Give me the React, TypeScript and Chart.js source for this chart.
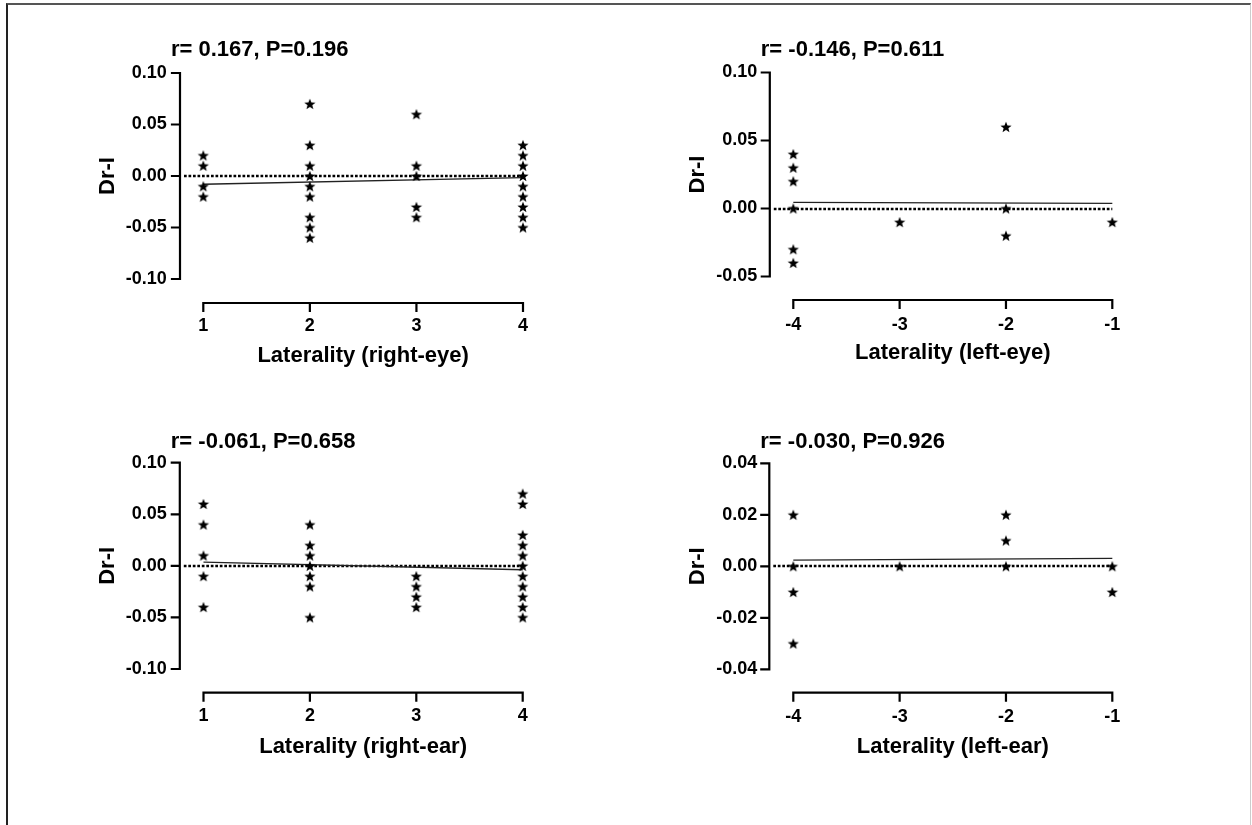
import React, { useEffect, useRef } from "react";
import { Chart, registerables } from "chart.js";

Chart.register(...registerables);

const FONT = "'Liberation Sans', Arial, Helvetica, sans-serif";

// ---------------- data ----------------
const yAxisTitle = "Dr-I";

// Panel A: right eye
const rightEyeTitle = "r= 0.167, P=0.196";
const rightEyeXLabel = "Laterality (right-eye)";
const rightEyeXTicks = [1, 2, 3, 4];
const rightEyeYTicks = [-0.1, -0.05, 0, 0.05, 0.1];
const rightEyeX = [1, 1, 1, 1, 2, 2, 2, 2, 2, 2, 2, 2, 2, 3, 3, 3, 3, 3, 4, 4, 4, 4, 4, 4, 4, 4, 4];
const rightEyeY = [0.02, 0.01, -0.01, -0.02, 0.07, 0.03, 0.01, 0.0, -0.01, -0.02, -0.04, -0.05, -0.06, 0.06, 0.01, 0.0, -0.03, -0.04, 0.03, 0.02, 0.01, 0.0, -0.01, -0.02, -0.03, -0.04, -0.05];
const rightEyeFitX = [1, 4];
const rightEyeFitY = [-0.008, -0.0015];

// Panel B: left eye
const leftEyeTitle = "r= -0.146, P=0.611";
const leftEyeXLabel = "Laterality (left-eye)";
const leftEyeXTicks = [-4, -3, -2, -1];
const leftEyeYTicks = [-0.05, 0, 0.05, 0.1];
const leftEyeX = [-4, -4, -4, -4, -4, -4, -3, -2, -2, -2, -1];
const leftEyeY = [0.04, 0.03, 0.02, 0.0, -0.03, -0.04, -0.01, 0.06, 0.0, -0.02, -0.01];
const leftEyeFitX = [-4, -1];
const leftEyeFitY = [0.0045, 0.0038];

// Panel C: right ear
const rightEarTitle = "r= -0.061, P=0.658";
const rightEarXLabel = "Laterality (right-ear)";
const rightEarXTicks = [1, 2, 3, 4];
const rightEarYTicks = [-0.1, -0.05, 0, 0.05, 0.1];
const rightEarX = [1, 1, 1, 1, 1, 2, 2, 2, 2, 2, 2, 2, 3, 3, 3, 3, 4, 4, 4, 4, 4, 4, 4, 4, 4, 4, 4];
const rightEarY = [0.06, 0.04, 0.01, -0.01, -0.04, 0.04, 0.02, 0.01, 0.0, -0.01, -0.02, -0.05, -0.01, -0.02, -0.03, -0.04, 0.07, 0.06, 0.03, 0.02, 0.01, 0.0, -0.01, -0.02, -0.03, -0.04, -0.05];
const rightEarFitX = [1, 4];
const rightEarFitY = [0.0037, -0.0038];

// Panel D: left ear
const leftEarTitle = "r= -0.030, P=0.926";
const leftEarXLabel = "Laterality (left-ear)";
const leftEarXTicks = [-4, -3, -2, -1];
const leftEarYTicks = [-0.04, -0.02, 0, 0.02, 0.04];
const leftEarX = [-4, -4, -4, -4, -3, -2, -2, -2, -1, -1];
const leftEarY = [0.02, 0.0, -0.01, -0.03, 0.0, 0.02, 0.01, 0.0, 0.0, -0.01];
const leftEarFitX = [-4, -1];
const leftEarFitY = [0.0024, 0.0031];

// ---------------- layout (page pixel positions) ----------------
type Spec = {
  title: string; xLabel: string; xTicks: number[]; yTicks: number[];
  xs: number[]; ys: number[]; fitX: number[]; fitY: number[];
  box: { x: number; y: number; w: number; h: number };
  area: { l: number; t: number; r: number; b: number };
  gapX: number; gapY: number; yLabelRight: number; yTitleX: number;
  titleY: number; xTickCY: number; xTitleCY: number;
};

const panels: Spec[] = [
  {
    title: rightEyeTitle, xLabel: rightEyeXLabel, xTicks: rightEyeXTicks, yTicks: rightEyeYTicks,
    xs: rightEyeX, ys: rightEyeY, fitX: rightEyeFitX, fitY: rightEyeFitY,
    box: { x: 0, y: 0, w: 626, h: 412 }, area: { l: 203.3, t: 73, r: 523, b: 279 },
    gapX: 23.3, gapY: 24, yLabelRight: 166.7, yTitleX: 108, titleY: 50, xTickCY: 326, xTitleCY: 356,
  },
  {
    title: leftEyeTitle, xLabel: leftEyeXLabel, xTicks: leftEyeXTicks, yTicks: leftEyeYTicks,
    xs: leftEyeX, ys: leftEyeY, fitX: leftEyeFitX, fitY: leftEyeFitY,
    box: { x: 626, y: 0, w: 626, h: 412 }, area: { l: 793.3, t: 72.5, r: 1112.3, b: 276.5 },
    gapX: 23.5, gapY: 23.5, yLabelRight: 757.3, yTitleX: 697.5, titleY: 50, xTickCY: 325, xTitleCY: 353,
  },
  {
    title: rightEarTitle, xLabel: rightEarXLabel, xTicks: rightEarXTicks, yTicks: rightEarYTicks,
    xs: rightEarX, ys: rightEarY, fitX: rightEarFitX, fitY: rightEarFitY,
    box: { x: 0, y: 412, w: 626, h: 413 }, area: { l: 203.5, t: 462.7, r: 522.7, b: 669 },
    gapX: 23.7, gapY: 23.7, yLabelRight: 166.7, yTitleX: 108, titleY: 441.5, xTickCY: 716, xTitleCY: 746.5,
  },
  {
    title: leftEarTitle, xLabel: leftEarXLabel, xTicks: leftEarXTicks, yTicks: leftEarYTicks,
    xs: leftEarX, ys: leftEarY, fitX: leftEarFitX, fitY: leftEarFitY,
    box: { x: 626, y: 412, w: 626, h: 413 }, area: { l: 793.3, t: 463.3, r: 1112.3, b: 669.3 },
    gapX: 24, gapY: 23.4, yLabelRight: 757.3, yTitleX: 697.5, titleY: 442.3, xTickCY: 716.7, xTitleCY: 746.7,
  },
];

function makeStar(): HTMLCanvasElement {
  const c = document.createElement("canvas");
  const s = 14;
  c.width = s;
  c.height = s;
  const g = c.getContext("2d")!;
  g.fillStyle = "#000";
  g.beginPath();
  for (let i = 0; i < 10; i++) {
    const r = i % 2 === 0 ? 5.9 : 2.5;
    const a = -Math.PI / 2 + (i * Math.PI) / 5;
    const px = s / 2 + r * Math.cos(a);
    const py = s / 2 + 0.6 + r * Math.sin(a);
    if (i === 0) g.moveTo(px, py);
    else g.lineTo(px, py);
  }
  g.closePath();
  g.fill();
  return c;
}

function axesPlugin(spec: Spec) {
  return {
    id: "prismAxes",
    beforeDatasetsDraw(chart: any) {
      const { ctx, chartArea: a, scales } = chart;
      const x = scales.x;
      const y = scales.y;
      const ax = a.left - spec.gapX;
      const ay = a.bottom + spec.gapY;
      ctx.save();
      // zero reference (dotted)
      const y0 = Math.round(y.getPixelForValue(0));
      ctx.strokeStyle = "#000";
      ctx.lineWidth = 2.7;
      ctx.setLineDash([2.7, 1.8]);
      ctx.beginPath();
      ctx.moveTo(ax + 4, y0);
      ctx.lineTo(a.right, y0);
      ctx.stroke();
      ctx.setLineDash([]);
      // axes
      ctx.lineWidth = 2.2;
      ctx.lineCap = "square";
      const yt = spec.yTicks;
      const xt = spec.xTicks;
      ctx.beginPath();
      ctx.moveTo(ax, y.getPixelForValue(Math.max(...yt)));
      ctx.lineTo(ax, y.getPixelForValue(Math.min(...yt)));
      for (const v of yt) {
        const p = y.getPixelForValue(v);
        ctx.moveTo(ax, p);
        ctx.lineTo(ax - 8, p);
      }
      ctx.moveTo(x.getPixelForValue(xt[0]), ay);
      ctx.lineTo(x.getPixelForValue(xt[xt.length - 1]), ay);
      for (const v of xt) {
        const p = x.getPixelForValue(v);
        ctx.moveTo(p, ay);
        ctx.lineTo(p, ay + 8);
      }
      ctx.stroke();
      // title
      ctx.fillStyle = "#000";
      ctx.font = `bold 22px ${FONT}`;
      ctx.textAlign = "left";
      ctx.textBaseline = "middle";
      ctx.fillText(spec.title, ax - 9, spec.titleY - spec.box.y);
      ctx.restore();
    },
  };
}

function Panel({ spec }: { spec: Spec }) {
  const ref = useRef<HTMLCanvasElement>(null);
  useEffect(() => {
    const star = makeStar();
    const { box, area } = spec;
    const L = area.l - box.x;
    const T = area.t - box.y;
    const R = area.r - box.x;
    const B = area.b - box.y;
    const chart = new Chart(ref.current!, {
      type: "scatter",
      data: {
        datasets: [
          {
            type: "scatter",
            data: spec.xs.map((v, i) => ({ x: v, y: spec.ys[i] })),
            pointStyle: star as any,
            pointRadius: 5,
            clip: false as any,
          },
          {
            type: "line",
            data: spec.fitX.map((v, i) => ({ x: v, y: spec.fitY[i] })),
            borderColor: "#222",
            borderWidth: 1.3,
            pointRadius: 0,
            fill: false,
            clip: false as any,
          } as any,
        ],
      },
      options: {
        animation: false,
        responsive: false,
        events: [],
        layout: { padding: { left: 0, top: T, right: box.w - R, bottom: 0 } },
        plugins: {
          legend: { display: false },
          tooltip: { enabled: false },
          title: { display: false },
        },
        scales: {
          x: {
            type: "linear",
            position: "bottom",
            min: Math.min(...spec.xTicks),
            max: Math.max(...spec.xTicks),
            grid: { display: false, drawTicks: false },
            border: { display: false },
            afterBuildTicks: (s: any) => {
              s.ticks = spec.xTicks.map((v) => ({ value: v }));
            },
            afterFit: (s: any) => {
              s.height = box.h - B;
            },
            ticks: {
              autoSkip: false,
              maxRotation: 0,
              padding: spec.xTickCY - area.b - 10.8,
              color: "#000",
              font: { family: FONT, size: 18, weight: "bold" },
              callback: (v: any) => String(v),
            },
            title: {
              display: true,
              text: spec.xLabel,
              color: "#000",
              font: { family: FONT, size: 22, weight: "bold" },
              padding: { top: 0, bottom: box.h - (spec.xTitleCY - box.y) - 13.2 },
            },
          },
          y: {
            type: "linear",
            position: "left",
            min: Math.min(...spec.yTicks),
            max: Math.max(...spec.yTicks),
            grid: { display: false, drawTicks: false },
            border: { display: false },
            afterBuildTicks: (s: any) => {
              s.ticks = spec.yTicks.map((v) => ({ value: v }));
            },
            afterFit: (s: any) => {
              s.width = L;
            },
            ticks: {
              autoSkip: false,
              padding: area.l - spec.yLabelRight,
              color: "#000",
              font: { family: FONT, size: 18, weight: "bold" },
              callback: (v: any) => Number(v).toFixed(2),
            },
            title: {
              display: true,
              text: yAxisTitle,
              color: "#000",
              font: { family: FONT, size: 22, weight: "bold" },
              padding: { top: spec.yTitleX - box.x - 13.2, bottom: 0 },
            },
          },
        },
      } as any,
      plugins: [axesPlugin(spec)],
    });
    return () => chart.destroy();
  }, [spec]);
  return (
    <canvas
      ref={ref}
      width={spec.box.w}
      height={spec.box.h}
      style={{
        position: "absolute",
        left: spec.box.x,
        top: spec.box.y,
        width: spec.box.w,
        height: spec.box.h,
      }}
    />
  );
}

export default function App() {
  useEffect(() => {
    document.body.style.margin = "0";
    document.body.style.background = "#fff";
  }, []);
  return (
    <div
      style={{
        position: "relative",
        width: 1252,
        height: 825,
        overflow: "hidden",
        background: "#fff",
      }}
    >
      <div
        style={{
          position: "absolute",
          left: 6,
          top: 3,
          width: 1242,
          height: 840,
          borderTop: "2px solid #555",
          borderLeft: "2px solid #222",
          borderRight: "1px solid #ccc",
        }}
      />
      {panels.map((p, i) => (
        <Panel key={i} spec={p} />
      ))}
    </div>
  );
}
